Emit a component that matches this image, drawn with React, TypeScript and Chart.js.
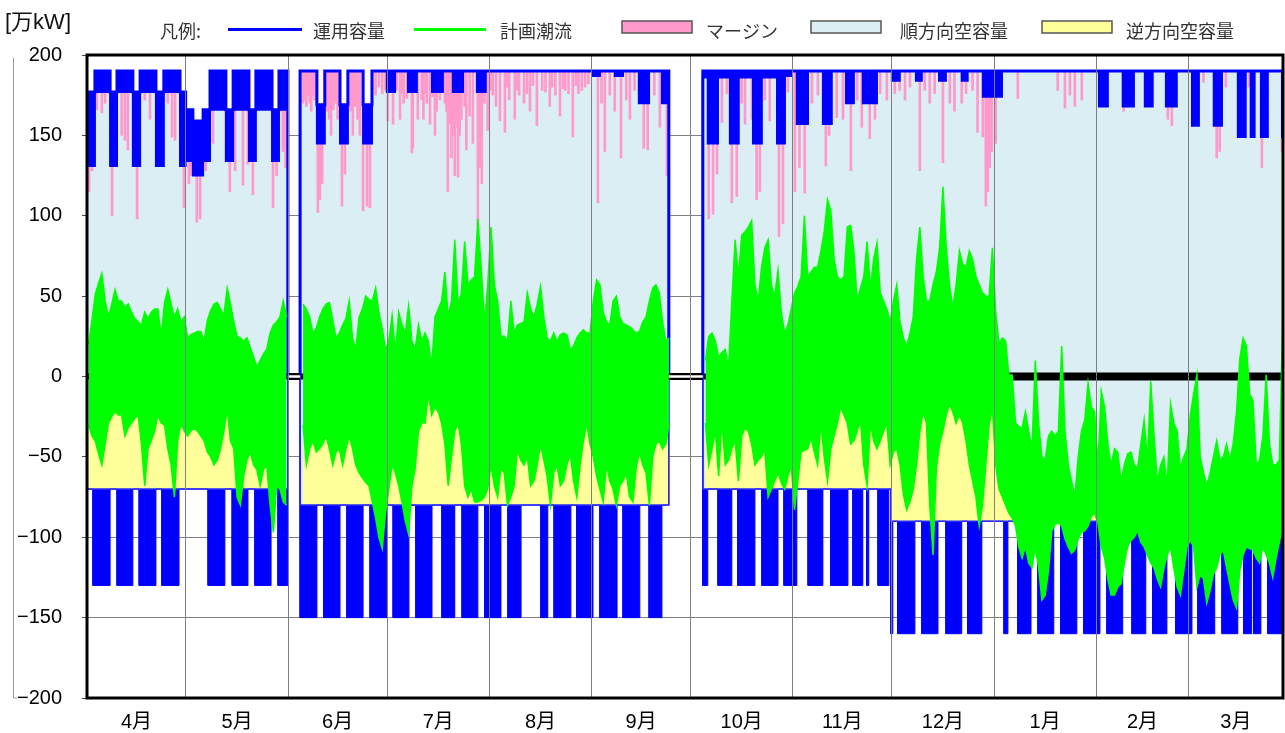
import React, { useEffect, useRef } from 'react';
import { Chart, registerables } from 'chart.js';

Chart.register(...registerables);

// ---------- axes ----------
const X_MAX = 362.6; // days from 1 April shown in the plot
const monthStarts = [0, 30, 61, 91, 122, 153, 183, 214, 244, 275, 306, 334];
const monthLabels = ['4月', '5月', '6月', '7月', '8月', '9月', '10月', '11月', '12月', '1月', '2月', '3月'];
const yMin = -200;
const yMax = 200;
const yStep = 50;
const unitLabel = '[万kW]';
const legendTitle = '凡例:';
const legendLabels = ['運用容量', '計画潮流', 'マージン', '順方向空容量', '逆方向空容量'];

// ---------- 運用容量 (forward): [startDay, bandLow, bandHigh] ----------
const fwdCapSegments = [
  [0, 131, 177], [2.4, 177, 190], [7.0, 131, 177], [9.1, 177, 190], [13.9, 131, 177], [16.1, 177, 190],
  [20.9, 131, 177], [23.3, 177, 190], [28.2, 131, 177],
  [29.9, 134, 166], [32.1, 125, 159], [35.2, 134, 166], [37.3, 166, 190], [42.1, 134, 166], [44.3, 166, 190],
  [49.1, 134, 166], [51.2, 166, 190], [56.1, 134, 166], [58.2, 166, 190],
  [60.9, 0, 0],
  [64.6, 190, 190], [69.7, 145, 169], [72.1, 190, 190], [76.7, 145, 169], [79.1, 190, 190], [83.7, 145, 169], [86.4, 190, 190],
  [90.9, 177, 190], [93.4, 190, 190], [97.3, 177, 190], [100.0, 190, 190], [104.6, 177, 190], [107.9, 190, 190],
  [110.9, 177, 190], [114.0, 190, 190], [118.2, 177, 190], [120.9, 190, 190],
  [153.1, 187, 190], [155.5, 190, 190], [160.0, 187, 190], [162.5, 190, 190], [167.3, 170, 190], [170.4, 190, 190], [174.3, 170, 190],
  [176.4, 0, 0],
  [186.7, 186, 190], [188.2, 145, 190], [191.3, 186, 190], [194.9, 145, 190], [197.6, 186, 190], [201.9, 145, 190],
  [204.6, 186, 190], [209.2, 145, 190], [211.6, 187, 190],
  [213.7, 190, 190], [215.2, 157, 190], [218.6, 190, 190], [223.1, 157, 190], [225.8, 190, 190], [230.1, 170, 190],
  [232.5, 190, 190], [235.2, 170, 190], [236.6, 190, 190], [237.1, 170, 190], [239.5, 190, 190],
  [244.0, 184, 190], [246.4, 190, 190], [251.3, 184, 190], [253.1, 190, 190], [258.3, 184, 190], [260.4, 190, 190],
  [265.2, 184, 190], [267.0, 190, 190], [271.6, 174, 190], [277.4, 190, 190],
  [306.8, 168, 190], [309.5, 190, 190], [314.0, 168, 190], [317.4, 190, 190], [320.7, 168, 190], [323.1, 190, 190],
  [327.1, 168, 190], [330.4, 190, 190],
  [335.0, 156, 190], [337.1, 190, 190], [341.6, 156, 190], [344.1, 190, 190], [348.9, 149, 190], [351.3, 190, 190],
  [352.8, 149, 190], [354.0, 190, 190], [355.9, 149, 190], [358.0, 190, 190], [362.3, 149, 190],
];

// ---------- 運用容量 (reverse): [startDay, capacity, columnBottom] ----------
const revCapSegments = [
  [0, -70, -70], [1.8, -70, -130], [7.0, -70, -70], [9.1, -70, -130], [13.9, -70, -70], [15.8, -70, -130],
  [20.9, -70, -70], [22.7, -70, -130], [27.9, -70, -70],
  [36.7, -70, -130], [41.8, -70, -70], [44.0, -70, -130], [48.8, -70, -70], [50.9, -70, -130], [55.8, -70, -70], [57.9, -70, -130],
  [60.9, 0, 0],
  [64.6, -80, -150], [69.7, -80, -80], [71.8, -80, -150], [76.7, -80, -80], [78.8, -80, -150], [83.7, -80, -80],
  [85.8, -80, -150], [90.9, -80, -80], [92.8, -80, -150], [97.6, -80, -80], [99.7, -80, -150], [104.6, -80, -80],
  [107.6, -80, -150], [111.5, -80, -80], [113.7, -80, -150], [118.5, -80, -80], [120.6, -80, -150], [125.5, -80, -80],
  [127.6, -80, -150], [131.6, -80, -80], [137.6, -80, -150], [139.7, -80, -80], [141.6, -80, -150], [146.7, -80, -80],
  [148.5, -80, -150], [153.4, -80, -80], [155.5, -80, -150], [160.7, -80, -80], [162.5, -80, -150], [167.6, -80, -80],
  [170.4, -80, -150], [174.3, -80, -80],
  [176.4, 0, 0],
  [186.7, -70, -130], [188.2, -70, -70], [191.3, -70, -130], [195.5, -70, -70], [197.3, -70, -130], [202.5, -70, -70],
  [204.6, -70, -130], [209.5, -70, -70], [211.3, -70, -130], [215.2, -70, -70], [218.6, -70, -130], [223.1, -70, -70],
  [225.5, -70, -130], [230.7, -70, -70], [232.2, -70, -130], [235.2, -70, -70], [236.4, -70, -130], [237.0, -70, -70],
  [239.8, -70, -130], [243.1, -70, -70],
  [243.7, -90, -160], [244.3, -90, -90], [245.8, -90, -160], [251.0, -90, -90], [253.1, -90, -160], [258.0, -90, -90],
  [260.4, -90, -160], [265.2, -90, -90], [267.0, -90, -160], [271.3, -90, -90],
  [278.0, -90, -160], [279.2, -90, -90], [282.2, -90, -160], [286.2, -90, -90], [288.3, -90, -160], [293.1, -90, -90],
  [295.2, -90, -160], [300.1, -90, -90], [302.2, -90, -160], [307.1, -90, -90],
  [309.2, -90, -160], [314.0, -90, -90], [316.8, -90, -160], [321.0, -90, -90], [323.1, -90, -160], [327.4, -90, -90],
  [330.1, -90, -160], [335.0, -90, -90],
  [336.8, -90, -160], [341.9, -90, -90], [344.1, -90, -160], [348.9, -90, -90], [350.7, -90, -160], [353.1, -90, -90],
  [353.7, -90, -160], [355.9, -90, -90], [358.0, -90, -160],
];

// ---------- 計画潮流: daily maximum / minimum ----------
const flowMaxApr = [20, 35, 51, 58, 64, 47, 37, 45, 54, 47, 47, 43, 45, 40, 36, 34, 32, 40, 36, 40, 42, 42, 25, 46, 54, 45, 37, 42, 34, 37];
const flowMinApr = [-30, -37, -40, -48, -55, -42, -29, -25, -22, -24, -24, -37, -32, -29, -26, -24, -42, -68, -45, -40, -34, -24, -29, -30, -45, -55, -75, -40, -29, -34];
const flowMaxMay = [24, 26, 27, 28, 28, 22, 35, 41, 45, 46, 42, 38, 55, 45, 34, 25, 24, 22, 24, 18, 12, 6, 10, 14, 17, 27, 32, 34, 37, 47, 37];
const flowMinMay = [-37, -34, -32, -34, -37, -40, -47, -50, -55, -52, -45, -34, -20, -40, -45, -75, -80, -62, -52, -47, -55, -58, -68, -58, -55, -80, -97, -68, -70, -78, -80];
const flowMaxJun = [null, null, null, null, 45, 42, 37, 27, 30, 37, 42, 45, 46, 35, 24, 27, 32, 36, 47, 24, 17, 37, 42, 50, 48, 47, 55, 40, 30, 17];
const flowMinJun = [null, null, null, null, -30, -55, -45, -40, -47, -45, -42, -37, -45, -55, -47, -45, -55, -45, -37, -45, -55, -60, -63, -66, -68, -78, -88, -100, -107, -85];
const flowMaxJul = [22, 38, 15, 40, 32, 27, 44, 22, 17, 32, 22, 27, 22, 6, 37, 42, 47, 65, 37, 47, 85, 45, 52, 84, 57, 60, 62, 98, 68, 34, 57];
const flowMinJul = [-70, -55, -60, -68, -78, -90, -98, -68, -57, -34, -29, -29, -11, -24, -19, -22, -29, -42, -68, -50, -34, -29, -42, -68, -75, -70, -78, -78, -77, -75, -70];
const flowMaxAug = [93, 57, 47, 25, 25, 22, 47, 27, 32, 33, 34, 52, 42, 37, 45, 56, 37, 24, 22, 27, 22, 26, 27, 26, 17, 19, 24, 27, 29, 27, 27];
const flowMinAug = [-55, -68, -75, -57, -60, -80, -75, -68, -45, -52, -55, -50, -68, -65, -55, -42, -52, -62, -80, -60, -55, -68, -65, -55, -48, -65, -75, -55, -40, -29, -42];
const flowMaxSep = [47, 60, 57, 40, 34, 32, 47, 50, 37, 33, 32, 31, 29, 27, 28, 34, 37, 47, 55, 57, 52, 34, 22, 24, null, null, null, null, null, null];
const flowMinSep = [-50, -62, -70, -78, -55, -65, -70, -80, -68, -65, -60, -75, -78, -57, -47, -55, -60, -80, -50, -42, -40, -45, -42, -29, null, null, null, null, null, null];
const flowMaxOct = [null, null, null, null, 10, 25, 27, 22, 12, 15, 17, 5, 47, 85, 62, 88, 90, 93, 97, 57, 47, 68, 80, 85, 57, 50, 66, 40, 27, 32, 42];
const flowMinOct = [null, null, null, null, -29, -55, -45, -34, -62, -27, -55, -52, -45, -40, -65, -37, -32, -34, -42, -55, -52, -50, -45, -75, -70, -65, -60, -66, -70, -62, -55];
const flowMaxNov = [52, 56, 62, 100, 62, 65, 68, 68, 78, 90, 110, 103, 73, 62, 60, 62, 93, 94, 78, 47, 55, 62, 84, 55, 73, 83, 52, 47, 42, 34];
const flowMinNov = [-83, -65, -47, -46, -45, -38, -47, -55, -29, -50, -65, -45, -37, -29, -19, -24, -29, -42, -40, -34, -27, -55, -68, -29, -40, -45, -40, -34, -29, -55];
const flowMaxDec = [47, 57, 34, 24, 19, 27, 37, 73, 93, 62, 47, 47, 57, 65, 80, 118, 80, 57, 43, 57, 78, 70, 68, 78, 73, 62, 57, 52, 50, 50, 80];
const flowMinDec = [-47, -45, -55, -73, -83, -78, -70, -55, -34, -22, -29, -80, -111, -57, -42, -34, -24, -17, -22, -29, -24, -29, -40, -55, -65, -75, -93, -80, -55, -30, -20];
const flowMaxJan = [40, 20, 24, 22, 1, 1, -29, -31, -32, -22, -34, -45, 10, -29, -50, -52, -37, -34, -37, -34, 19, -34, -55, -65, -75, -50, -34, -27, -4, -19, -22];
const flowMinJan = [-55, -70, -75, -80, -85, -88, -93, -106, -113, -106, -116, -119, -106, -119, -139, -136, -121, -96, -92, -91, -93, -101, -106, -110, -108, -101, -97, -96, -93, -87, -85];
const flowMaxFeb = [-55, -9, -19, -42, -55, -45, -47, -65, -55, -48, -47, -55, -57, -42, -27, -52, -3, -37, -65, -55, -50, -68, -17, -29, -34, -57, -50, -45];
const flowMinFeb = [-91, -106, -113, -126, -136, -136, -131, -129, -116, -106, -102, -100, -96, -103, -106, -111, -116, -119, -126, -131, -119, -111, -106, -119, -131, -136, -121, -106];
const flowMaxMar = [-24, -11, 1, -50, -60, -68, -60, -50, -40, -52, -50, -42, -52, -42, -22, 11, 24, 19, -11, -15, -55, -52, -37, 1, -42, -55, -55, -52, 34];
const flowMinMar = [-102, -106, -131, -123, -126, -141, -133, -123, -119, -111, -108, -119, -129, -139, -144, -121, -111, -106, -107, -108, -113, -116, -106, -111, -116, -125, -113, -103, -93];

// ---------- マージン: [day, lower end of the margin spike] ----------
const marginSpikes = [
  [0.6, 115], [1.5, 128], [3.0, 166], [4.5, 164], [5.5, 170], [7.6, 100], [10.5, 150], [11.5, 147], [12.4, 141], [15.2, 98],
  [17.5, 172], [19.1, 160], [24.5, 170], [25.8, 149], [26.7, 147], [29.4, 105], [30.9, 120], [31.5, 125], [33.3, 96], [34.3, 98],
  [36.0, 128], [38.2, 145], [40.0, 175], [43.3, 115], [44.9, 128], [46.0, 170], [47.3, 119], [48.8, 132], [50.3, 113], [52.5, 178],
  [56.4, 105], [57.5, 125], [59.4, 140], [60.2, 130],
  [65.5, 170], [66.0, 172], [66.5, 168], [67.0, 175], [67.5, 170], [68.0, 165], [68.5, 175], [69.0, 172], [70.0, 102], [70.6, 110],
  [71.3, 120], [72.0, 168], [72.7, 165], [73.4, 160], [74.0, 150], [74.7, 166], [75.3, 170], [76.0, 160], [77.3, 106], [78.2, 126],
  [80.0, 165], [80.6, 150], [81.3, 168], [82.0, 160], [82.7, 150], [83.7, 103], [84.9, 106], [85.8, 105], [86.5, 178], [87.5, 175],
  [88.5, 180], [89.5, 176], [90.5, 178],
  [91.2, 159], [92.8, 157], [93.9, 178], [94.9, 160], [95.5, 176], [96.0, 170], [97.0, 173], [98.5, 139], [98.8, 142], [99.5, 178],
  [100.3, 160], [101.5, 172], [102.0, 160], [102.7, 176], [103.0, 170], [104.0, 157], [104.8, 174], [105.5, 150], [106.0, 165],
  [107.0, 172], [108.5, 170], [109.0, 165], [109.4, 115], [110.0, 157], [110.5, 136], [111.0, 150], [111.5, 125], [112.0, 155],
  [112.5, 124], [113.0, 150], [113.5, 160], [114.5, 168], [115.0, 141], [116.0, 162], [117.0, 145], [118.5, 94], [119.2, 130],
  [119.7, 120], [120.5, 170],
  [121.5, 153], [122.5, 178], [123.0, 175], [124.0, 168], [125.2, 159], [126.7, 152], [127.2, 180], [128.0, 172], [129.7, 160],
  [130.5, 178], [131.0, 175], [132.5, 170], [133.4, 176], [134.3, 165], [135.2, 181], [136.4, 156], [138.0, 178], [139.0, 177],
  [140.3, 168], [141.0, 180], [142.0, 175], [143.4, 162], [144.3, 179], [145.0, 178], [146.0, 176], [147.3, 149], [148.2, 181],
  [149.0, 176], [150.0, 178], [151.0, 180], [152.0, 182],
  [154.9, 108], [156.0, 170], [157.0, 140], [158.5, 175], [160.0, 165], [161.9, 136], [163.5, 172], [164.6, 160], [166.0, 178], [168.8, 142],
  [170.0, 141], [172.0, 175], [173.7, 155], [175.8, 125],
  [188.5, 98], [189.8, 101], [191.0, 126], [192.5, 158], [194.0, 176], [195.5, 108], [197.0, 112], [198.5, 170], [199.5, 157], [201.6, 160],
  [203.0, 110], [204.0, 115], [205.5, 172], [207.0, 159], [209.8, 87], [211.0, 95], [212.5, 177],
  [214.6, 115], [216.0, 130], [217.6, 114], [219.8, 170], [221.6, 175], [224.0, 131], [225.0, 150], [227.3, 161], [229.2, 160], [231.6, 128],
  [233.5, 172], [234.9, 155], [237.3, 148], [238.9, 160], [240.5, 176], [242.5, 172],
  [244.9, 176], [246.4, 178], [248.0, 172], [249.5, 180], [252.5, 128], [254.0, 178], [255.5, 170], [257.0, 176], [259.5, 133], [261.6, 170],
  [263.0, 165], [265.2, 170], [266.5, 176], [268.5, 178], [270.0, 152], [271.6, 149], [272.5, 106], [273.1, 115], [273.7, 130], [274.3, 140],
  [275.5, 145],
  [282.2, 173], [294.3, 178], [296.5, 167], [298.0, 175], [299.5, 168], [301.6, 172],
  [314.3, 165], [327.7, 160], [328.9, 156],
  [338.5, 183], [342.5, 136], [343.4, 140], [345.3, 180], [352.3, 180], [356.2, 130], [362.3, 140],
];

// ---------- styling ----------
const FONT = '"Liberation Sans", "Noto Sans CJK JP", Arial, sans-serif';
const FONT_JP = '"Noto Sans CJK JP", "Liberation Sans", sans-serif';
const C_BLUE = '#0000ff';
const C_GREEN = '#00ff00';
const C_PINK = '#ff99cc';
const C_LB = '#daeef3';
const C_YEL = '#ffff99';
const NONE = 'rgba(0,0,0,0)';

// ---------- helpers building the library's data tables ----------
function stepPts(segs: number[][], k: number) {
  const pts: any[] = [];
  segs.forEach((s, i) => {
    const end = i + 1 < segs.length ? segs[i + 1][0] : X_MAX;
    pts.push({ x: s[0], y: s[k] }, { x: end, y: s[k] });
  });
  return pts;
}
function dayPts(vals: (number | null)[]) {
  return vals.map((v, i) => ({ x: i + 0.5, y: v }));
}
function capAt(d: number) {
  let v = fwdCapSegments[0][2];
  for (const s of fwdCapSegments) if (s[0] <= d) v = s[2];
  return v;
}

const flowMax = [
  ...flowMaxApr, ...flowMaxMay, ...flowMaxJun, ...flowMaxJul, ...flowMaxAug, ...flowMaxSep,
  ...flowMaxOct, ...flowMaxNov, ...flowMaxDec, ...flowMaxJan, ...flowMaxFeb, ...flowMaxMar,
];
const flowMin = [
  ...flowMinApr, ...flowMinMay, ...flowMinJun, ...flowMinJul, ...flowMinAug, ...flowMinSep,
  ...flowMinOct, ...flowMinNov, ...flowMinDec, ...flowMinJan, ...flowMinFeb, ...flowMinMar,
];

const monthEnds = monthStarts.map((s, i) => (i + 1 < monthStarts.length ? monthStarts[i + 1] : X_MAX));
const monthMids = monthStarts.map((s, i) => (s + monthEnds[i]) / 2);
const labelByValue = new Map<number, string>();
monthMids.forEach((m, i) => labelByValue.set(m, monthLabels[i]));
const boundarySet = new Set<number>(monthStarts);
const xTickValues = [...monthStarts, ...monthMids].sort((a, b) => a - b);

const decorPlugin = {
  id: 'decor',
  afterDraw(chart: any) {
    const { ctx, chartArea: a } = chart;
    ctx.save();
    // frame
    ctx.strokeStyle = '#000';
    ctx.lineWidth = 3;
    ctx.strokeRect(a.left, a.top, a.right - a.left, a.bottom - a.top);
    // thin bracket line at far left
    ctx.strokeStyle = '#9a9a9a';
    ctx.lineWidth = 1;
    ctx.beginPath();
    ctx.moveTo(13.5, a.top + 3);
    ctx.lineTo(13.5, a.bottom);
    ctx.lineTo(17, a.bottom);
    ctx.stroke();
    // unit
    ctx.fillStyle = '#111';
    ctx.textBaseline = 'middle';
    ctx.textAlign = 'left';
    ctx.font = `22px ${FONT}`;
    ctx.fillText(unitLabel, 5, 23);
    // legend
    ctx.font = `18px ${FONT_JP}`;
    ctx.fillStyle = '#333';
    ctx.fillText(legendTitle, 160, 31);
    const ty = 31;
    // 運用容量
    ctx.strokeStyle = C_BLUE;
    ctx.lineWidth = 3;
    ctx.beginPath(); ctx.moveTo(228, 29.5); ctx.lineTo(302, 29.5); ctx.stroke();
    ctx.fillText(legendLabels[0], 313, ty);
    // 計画潮流
    ctx.strokeStyle = C_GREEN;
    ctx.beginPath(); ctx.moveTo(414, 29.5); ctx.lineTo(486, 29.5); ctx.stroke();
    ctx.fillText(legendLabels[1], 500, ty);
    // boxes
    const boxes = [
      [622, C_PINK, 706, legendLabels[2]],
      [811, C_LB, 900, legendLabels[3]],
      [1042, C_YEL, 1126, legendLabels[4]],
    ];
    boxes.forEach(([bx, col, tx, label]: any) => {
      ctx.fillStyle = col;
      ctx.fillRect(bx, 21, 70, 12);
      ctx.strokeStyle = '#555';
      ctx.lineWidth = 1.5;
      ctx.strokeRect(bx, 21, 70, 12);
      ctx.fillStyle = '#333';
      ctx.fillText(label, tx, ty);
    });
    ctx.restore();
  },
};

export default function App() {
  const ref = useRef<HTMLCanvasElement | null>(null);

  useEffect(() => {
    const capHiPts = stepPts(fwdCapSegments, 2);
    const capLoPts = stepPts(fwdCapSegments, 1);
    const revHiPts = stepPts(revCapSegments, 1);
    const revLoPts = stepPts(revCapSegments, 2);
    const flowMaxPts = dayPts(flowMax);
    const flowMinPts = dayPts(flowMin);
    const gapPts: any[] = [];
    fwdCapSegments.forEach((s, i) => {
      if (s[1] === 0 && s[2] === 0) {
        const e = fwdCapSegments[i + 1][0];
        gapPts.push({ x: s[0], y: 0 }, { x: e, y: 0 }, { x: e, y: null });
      }
    });
    const marginData = marginSpikes.map(([d, lo]) => ({ x: d, y: [lo, capAt(d)] }));

    const line = { type: 'line', pointRadius: 0, tension: 0, spanGaps: false };
    const datasets: any[] = [
      // 0 順方向空容量 (light blue) between forward and reverse capacity
      { ...line, label: 'lb', data: capHiPts, borderWidth: 0, borderColor: NONE, fill: { target: 3, above: C_LB, below: C_LB }, order: 20 },
      // 1 マージン
      { type: 'bar', label: 'margin', data: marginData, backgroundColor: C_PINK, borderWidth: 0, barThickness: 2, grouped: false, order: 19 },
      // 2 逆方向空容量 (yellow)
      { ...line, label: 'yellow', data: flowMinPts, borderWidth: 0, borderColor: NONE, fill: { target: 3, above: C_YEL, below: NONE }, order: 18 },
      // 3 reverse capacity line
      { ...line, label: 'revHi', data: revHiPts, borderColor: '#2b2bff', borderWidth: 1.5, fill: false, order: 5 },
      // 4 reverse capacity columns
      { ...line, label: 'revLo', data: revLoPts, borderColor: C_BLUE, borderWidth: 1, fill: { target: 3, above: C_BLUE, below: C_BLUE }, order: 6 },
      // 5 forward capacity band
      { ...line, label: 'capLo', data: capLoPts, borderColor: C_BLUE, borderWidth: 2, fill: { target: 6, above: C_BLUE, below: C_BLUE }, order: 8 },
      // 6 forward capacity line
      { ...line, label: 'capHi', data: capHiPts, borderColor: C_BLUE, borderWidth: 3, fill: false, order: 7 },
      // 7,8 zero line
      { ...line, label: 'zeroA', data: [{ x: 0, y: 0 }, { x: monthStarts[9], y: 0 }], borderColor: '#000', borderWidth: 6, fill: false, order: 10 },
      { ...line, label: 'zeroB', data: [{ x: monthStarts[9], y: 0 }, { x: X_MAX, y: 0 }], borderColor: '#000', borderWidth: 8, fill: false, order: 10 },
      // 9,10 outage gaps (double line)
      { ...line, label: 'gapBlack', data: gapPts, borderColor: '#000', borderWidth: 7, fill: false, order: 0.5 },
      { ...line, label: 'gapWhite', data: gapPts, borderColor: '#fff', borderWidth: 2.5, fill: false, order: 0.4 },
      // 11 計画潮流 band
      { ...line, label: 'flowHi', data: flowMaxPts, borderColor: C_GREEN, borderWidth: 1.5, fill: { target: 2, above: C_GREEN, below: C_GREEN }, order: 1 },
      // 12 計画潮流 lower edge
      { ...line, label: 'flowLo', data: flowMinPts, borderColor: C_GREEN, borderWidth: 1.5, fill: false, order: 1.1 },
    ];

    const chart = new Chart(ref.current as HTMLCanvasElement, {
      type: 'line',
      data: { datasets },
      options: {
        responsive: false,
        animation: false,
        devicePixelRatio: 1,
        events: [],
        layout: { padding: { top: 55, left: 0, right: 2, bottom: 0 } },
        plugins: { legend: { display: false }, tooltip: { enabled: false } },
        elements: { point: { radius: 0 }, line: { borderJoinStyle: 'miter' } },
        scales: {
          x: {
            type: 'linear',
            min: 0,
            max: X_MAX,
            offset: false,
            afterBuildTicks: (scale: any) => {
              scale.ticks = xTickValues.map((v) => ({ value: v }));
            },
            afterFit: (scale: any) => { scale.height = 35; },
            ticks: {
              autoSkip: false,
              maxRotation: 0,
              minRotation: 0,
              padding: 12,
              color: '#000',
              font: { size: 20, family: FONT },
              callback: (v: any) => labelByValue.get(v) ?? '',
            },
            grid: {
              z: 1,
              offset: false,
              drawTicks: false,
              lineWidth: 1,
              color: (c: any) => (c.tick && boundarySet.has(c.tick.value) ? '#7f7f7f' : NONE),
            },
            border: { display: false },
          },
          y: {
            type: 'linear',
            min: yMin,
            max: yMax,
            afterFit: (scale: any) => { scale.width = 87; },
            ticks: {
              stepSize: yStep,
              padding: 20,
              color: '#000',
              font: { size: 20, family: FONT },
              callback: (v: any) => (v < 0 ? '\u2212' + Math.abs(v) : String(v)),
            },
            grid: { color: '#808080', lineWidth: 1, tickLength: 5, tickColor: '#444', offset: false },
            border: { display: false },
          },
        },
      },
      plugins: [decorPlugin],
    } as any);
    return () => chart.destroy();
  }, []);

  return (
    <div style={{ position: 'fixed', left: 0, top: 0, width: 1285, height: 733, background: '#fff' }}>
      <canvas ref={ref} width={1285} height={733} style={{ display: 'block', width: 1285, height: 733 }} />
    </div>
  );
}
